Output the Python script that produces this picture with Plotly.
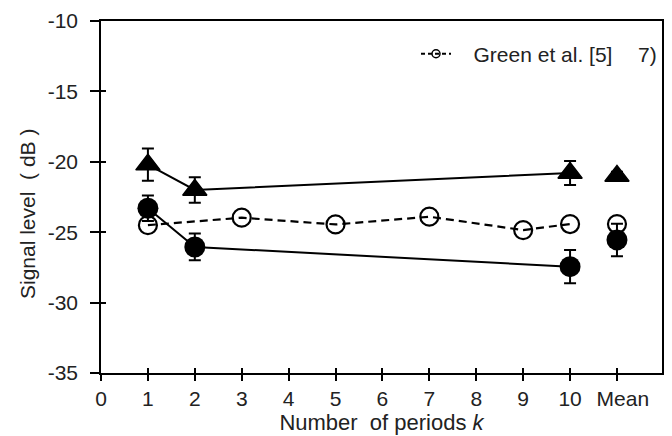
import plotly.graph_objects as go

# Data
x_k = [1, 2, 10]
tri_y = [-20.2, -22.0, -20.8]
tri_err = [1.15, 0.9, 0.85]
tri_mean = -21.0
tri_mean_err = 0.3

dot_y = [-23.3, -26.05, -27.45]
dot_err = [0.9, 0.95, 1.18]
dot_mean = -25.55
dot_mean_err = 1.15

green_x = [1, 3, 5, 7, 9, 10]
green_y = [-24.5, -23.97, -24.45, -23.9, -24.85, -24.42]
green_mean = -24.42

mean_x = 11
xtick_vals = list(range(0, 12))
xtick_text = [str(i) for i in range(0, 11)] + ["\u00a0\u00a0Mean"]
ytick_vals = [-35, -30, -25, -20, -15, -10]
ytick_text = ["-35", "-30", "-25", "-20", "-15", "-10"]

font = "Liberation Sans, Arial, sans-serif"
fig = go.Figure()

err_style = dict(type="data", color="black", thickness=2, width=6)

# Green et al. (open circles, dashed)
fig.add_trace(go.Scatter(x=green_x, y=green_y, mode="lines+markers",
                         line=dict(color="black", width=2.2, dash="8px,5px"),
                         marker=dict(symbol="circle-open", size=18, color="black", line=dict(width=2.2)),
                         showlegend=False))
fig.add_trace(go.Scatter(x=[mean_x], y=[green_mean], mode="markers",
                         marker=dict(symbol="circle-open", size=18, color="black", line=dict(width=2.2)),
                         showlegend=False))

# Triangles
fig.add_trace(go.Scatter(x=x_k, y=tri_y, mode="lines+markers",
                         line=dict(color="black", width=2),
                         marker=dict(symbol="triangle-up", size=21, color="black",
                                     line=dict(color="black", width=1.5)),
                         error_y=dict(array=tri_err, **err_style),
                         showlegend=False))
fig.add_trace(go.Scatter(x=[mean_x], y=[tri_mean], mode="markers",
                         marker=dict(symbol="triangle-up", size=21, color="black",
                                     line=dict(color="black", width=1.5)),
                         error_y=dict(array=[tri_mean_err], **err_style),
                         showlegend=False))

# Filled circles
fig.add_trace(go.Scatter(x=x_k, y=dot_y, mode="lines+markers",
                         line=dict(color="black", width=2),
                         marker=dict(symbol="circle", size=21, color="black"),
                         error_y=dict(array=dot_err, **err_style),
                         showlegend=False))
fig.add_trace(go.Scatter(x=[mean_x], y=[dot_mean], mode="markers",
                         marker=dict(symbol="circle", size=21, color="black"),
                         error_y=dict(array=[dot_mean_err], **err_style),
                         showlegend=False))

# Legend-only entry
fig.add_trace(go.Scatter(x=[None], y=[None], mode="lines+markers", name="\u00a0\u00a0\u00a0Green et al. [5]",
                         line=dict(color="black", width=2, dash="4px,3px"),
                         marker=dict(symbol="circle-open", size=8, color="black", line=dict(width=1.5))))

# Invisible trace for the inner-tick overlay axes
fig.add_trace(go.Scatter(x=[None], y=[None], xaxis="x2", yaxis="y2", showlegend=False))

xr = [0, 11.96]
yr = [-35, -10]
fig.update_layout(
    width=672, height=436,
    margin=dict(l=101, r=10, t=21, b=63),
    paper_bgcolor="white", plot_bgcolor="white",
    font=dict(family=font, size=21, color="#222"),
    xaxis=dict(range=xr, tickvals=xtick_vals, ticktext=xtick_text, ticks="outside", ticklen=6,
               tickwidth=1.5, tickcolor="black", showline=True, linecolor="black", linewidth=1.5,
               mirror=True, showgrid=False, zeroline=False, automargin=False, tickangle=0,
               tickfont=dict(size=21),
               title=dict(text="\u00a0Number  of periods <i>k</i>", font=dict(size=22), standoff=2)),
    yaxis=dict(range=yr, tickvals=ytick_vals, ticktext=ytick_text, ticks="outside", ticklen=9,
               tickwidth=1.5, tickcolor="black", showline=True, linecolor="black", linewidth=1.5,
               mirror=True, showgrid=False, zeroline=False, automargin=False,
               ticklabelstandoff=8, tickfont=dict(size=21)),
    xaxis2=dict(range=xr, tickvals=xtick_vals, ticks="inside", ticklen=5, tickwidth=1.5,
                tickcolor="black", showticklabels=False, overlaying="x", side="bottom",
                showgrid=False, zeroline=False, showline=False),
    yaxis2=dict(range=yr, tickvals=ytick_vals, ticks="inside", ticklen=5, tickwidth=1.5,
                tickcolor="black", showticklabels=False, overlaying="y", side="left",
                showgrid=False, zeroline=False, showline=False),
    legend=dict(x=0.5615, y=0.906, xanchor="left", yanchor="middle", bgcolor="rgba(0,0,0,0)",
                font=dict(size=21, color="#222")),
    annotations=[
        dict(text="7)", x=0.975, y=0.906, xref="paper", yref="paper", showarrow=False,
             font=dict(size=21, color="#222"), xanchor="center", yanchor="middle"),
        dict(text="Signal level  ( dB )", x=-0.1319, y=0.4517, xref="paper", yref="paper",
             showarrow=False, textangle=-90, font=dict(size=21, color="#222"),
             xanchor="center", yanchor="middle"),
    ],
)

fig.write_html("out.html", config={"displayModeBar": False},
               post_script="document.body.style.margin='0';document.body.style.overflow='hidden';")
